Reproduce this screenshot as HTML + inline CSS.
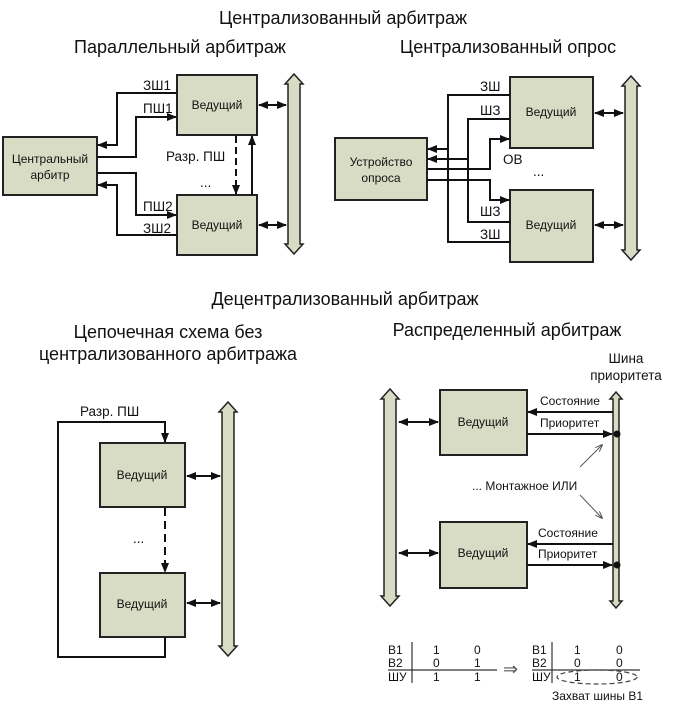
<!DOCTYPE html>
<html><head><meta charset="utf-8"><style>
html,body{margin:0;padding:0;background:#fff;}
svg{display:block;}
text{font-family:"Liberation Sans",Arial,sans-serif;fill:#111;}
.t{font-size:18px;}
.s{font-size:12px;}
.l{font-size:13.5px;}
.box{fill:#d8dcc4;stroke:#222;stroke-width:2;}
.bus{fill:#d8dcc4;stroke:#222;stroke-width:1.5;}
.ln{stroke:#111;stroke-width:2;fill:none;}
</style></head><body>
<svg width="680" height="710" viewBox="0 0 680 710" xmlns="http://www.w3.org/2000/svg">
<defs>
<marker id="a" markerWidth="10" markerHeight="8" refX="9" refY="4" orient="auto" markerUnits="userSpaceOnUse"><path d="M0,0 L10,4 L0,8 z" fill="#111"/></marker>
<marker id="as" markerWidth="10" markerHeight="8" refX="1" refY="4" orient="auto" markerUnits="userSpaceOnUse"><path d="M10,0 L0,4 L10,8 z" fill="#111"/></marker>
<marker id="t" markerWidth="8" markerHeight="6" refX="7" refY="3" orient="auto" markerUnits="userSpaceOnUse"><path d="M0,0 L8,3 L0,6" fill="none" stroke="#555" stroke-width="1"/></marker>
</defs>

<text class="t" x="343" y="24" text-anchor="middle">Централизованный арбитраж</text>
<text class="t" x="180" y="53" text-anchor="middle">Параллельный арбитраж</text>
<text class="t" x="508" y="53" text-anchor="middle">Централизованный опрос</text>
<text class="t" x="345" y="305" text-anchor="middle">Децентрализованный арбитраж</text>
<text class="t" x="168" y="338" text-anchor="middle">Цепочечная схема без</text>
<text class="t" x="168" y="360" text-anchor="middle">централизованного арбитража</text>
<text class="t" x="507" y="336" text-anchor="middle">Распределенный арбитраж</text>

<!-- Panel 1 -->
<rect class="box" x="3" y="137" width="94" height="58"/>
<text class="s" x="50" y="163" text-anchor="middle">Центральный</text>
<text class="s" x="50" y="179" text-anchor="middle">арбитр</text>
<rect class="box" x="177" y="75" width="80" height="60"/>
<text class="s" x="217" y="109" text-anchor="middle">Ведущий</text>
<rect class="box" x="177" y="195" width="80" height="60"/>
<text class="s" x="217" y="229" text-anchor="middle">Ведущий</text>
<polygon class="bus" points="294,74 303,84 300,84 300,244 303,244 294,254 285,244 288,244 288,84 285,84"/>
<line class="ln" x1="259" y1="105" x2="286" y2="105" marker-start="url(#as)" marker-end="url(#a)"/>
<line class="ln" x1="259" y1="225" x2="286" y2="225" marker-start="url(#as)" marker-end="url(#a)"/>
<polyline class="ln" points="177,93 117,93 117,145 98,145" marker-end="url(#a)"/>
<polyline class="ln" points="97,157 136,157 136,117 176,117" marker-end="url(#a)"/>
<polyline class="ln" points="97,173 136,173 136,215 176,215" marker-end="url(#a)"/>
<polyline class="ln" points="177,235 117,235 117,185 98,185" marker-end="url(#a)"/>
<line class="ln" x1="236" y1="136" x2="236" y2="194" stroke-dasharray="7,4" marker-end="url(#a)"/>
<line class="ln" x1="252" y1="195" x2="252" y2="136" marker-end="url(#a)"/>
<text class="l" x="143" y="90">ЗШ1</text>
<text class="l" x="143" y="113">ПШ1</text>
<text class="l" x="166" y="161">Разр. ПШ</text>
<text class="l" x="200" y="187">...</text>
<text class="l" x="143" y="211">ПШ2</text>
<text class="l" x="143" y="233">ЗШ2</text>

<!-- Panel 2 -->
<rect class="box" x="335" y="138" width="92" height="62"/>
<text class="s" x="381" y="166" text-anchor="middle">Устройство</text>
<text class="s" x="381" y="182" text-anchor="middle">опроса</text>
<rect class="box" x="510" y="77" width="83" height="71"/>
<text class="s" x="551" y="116" text-anchor="middle">Ведущий</text>
<rect class="box" x="510" y="190" width="83" height="72"/>
<text class="s" x="551" y="229" text-anchor="middle">Ведущий</text>
<polygon class="bus" points="631,76 640,86 637,86 637,250 640,250 631,260 622,250 625,250 625,86 622,86"/>
<line class="ln" x1="595" y1="113" x2="623" y2="113" marker-start="url(#as)" marker-end="url(#a)"/>
<line class="ln" x1="595" y1="225" x2="623" y2="225" marker-start="url(#as)" marker-end="url(#a)"/>
<polyline class="ln" points="510,95 448,95 448,242 510,242"/>
<line class="ln" x1="448" y1="149" x2="428" y2="149" marker-end="url(#a)"/>
<polyline class="ln" points="510,119 468,119 468,222 510,222"/>
<line class="ln" x1="468" y1="159" x2="428" y2="159" marker-end="url(#a)"/>
<polyline class="ln" points="427,169 490,169 490,139 509,139" marker-end="url(#a)"/>
<polyline class="ln" points="427,180 490,180 490,200 509,200" marker-end="url(#a)"/>
<text class="l" x="480" y="91">ЗШ</text>
<text class="l" x="480" y="115">ШЗ</text>
<text class="l" x="503" y="164">ОВ</text>
<text class="l" x="533" y="176">...</text>
<text class="l" x="480" y="216">ШЗ</text>
<text class="l" x="480" y="239">ЗШ</text>

<!-- Panel 3 -->
<rect class="box" x="100" y="443" width="85" height="64"/>
<text class="s" x="142" y="479" text-anchor="middle">Ведущий</text>
<rect class="box" x="100" y="573" width="85" height="64"/>
<text class="s" x="142" y="608" text-anchor="middle">Ведущий</text>
<polygon class="bus" points="228,402 237,412 234,412 234,646 237,646 228,656 219,646 222,646 222,412 219,412"/>
<line class="ln" x1="187" y1="476" x2="220" y2="476" marker-start="url(#as)" marker-end="url(#a)"/>
<line class="ln" x1="187" y1="603" x2="220" y2="603" marker-start="url(#as)" marker-end="url(#a)"/>
<polyline class="ln" points="165,637 165,657 58,657 58,422 165,422 165,442" marker-end="url(#a)"/>
<line class="ln" x1="165" y1="508" x2="165" y2="572" stroke-dasharray="8,5" marker-end="url(#a)"/>
<text class="l" x="80" y="416">Разр. ПШ</text>
<text class="l" x="133" y="543">...</text>

<!-- Panel 4 -->
<text class="l" x="626" y="363" text-anchor="middle">Шина</text>
<text class="l" x="626" y="380" text-anchor="middle">приоритета</text>
<polygon class="bus" points="390,389 399,399 396,399 396,596 399,596 390,606 381,596 384,596 384,399 381,399"/>
<polygon class="bus" points="616,392 622,399 619,399 619,601 622,601 616,608 610,601 613,601 613,399 610,399"/>
<rect class="box" x="440" y="390" width="87" height="65"/>
<text class="s" x="483" y="426" text-anchor="middle">Ведущий</text>
<rect class="box" x="440" y="522" width="87" height="66"/>
<text class="s" x="483" y="557" text-anchor="middle">Ведущий</text>
<line class="ln" x1="399" y1="422" x2="438" y2="422" marker-start="url(#as)" marker-end="url(#a)"/>
<line class="ln" x1="399" y1="553" x2="438" y2="553" marker-start="url(#as)" marker-end="url(#a)"/>
<line class="ln" x1="613" y1="412" x2="528" y2="412" marker-end="url(#a)"/>
<line class="ln" x1="527" y1="434" x2="612" y2="434" marker-end="url(#a)"/>
<circle cx="617" cy="434" r="3.5" fill="#111"/>
<line class="ln" x1="613" y1="544" x2="528" y2="544" marker-end="url(#a)"/>
<line class="ln" x1="527" y1="565" x2="612" y2="565" marker-end="url(#a)"/>
<circle cx="617" cy="565" r="3.5" fill="#111"/>
<text class="s" x="540" y="405">Состояние</text>
<text class="s" x="540" y="427">Приоритет</text>
<text class="s" x="538" y="537">Состояние</text>
<text class="s" x="538" y="558">Приоритет</text>
<text class="s" x="472" y="490">... Монтажное ИЛИ</text>
<line x1="580" y1="467" x2="602" y2="445" stroke="#555" stroke-width="1" marker-end="url(#t)"/>
<line x1="580" y1="495" x2="602" y2="518" stroke="#555" stroke-width="1" marker-end="url(#t)"/>

<!-- tables -->
<text class="s" x="388" y="654">В1</text>
<text class="s" x="388" y="667">В2</text>
<text class="s" x="388" y="681">ШУ</text>
<line x1="412" y1="642" x2="412" y2="683" stroke="#333" stroke-width="1.2"/>
<line x1="388" y1="670" x2="497" y2="670" stroke="#333" stroke-width="1.2"/>
<text class="s" x="433" y="654">1</text><text class="s" x="474" y="654">0</text>
<text class="s" x="433" y="667">0</text><text class="s" x="474" y="667">1</text>
<text class="s" x="433" y="681">1</text><text class="s" x="474" y="681">1</text>
<text x="503" y="675" style="font-size:18px;fill:#555">⇒</text>
<text class="s" x="532" y="654">В1</text>
<text class="s" x="532" y="667">В2</text>
<text class="s" x="532" y="681">ШУ</text>
<line x1="552" y1="642" x2="552" y2="683" stroke="#333" stroke-width="1.2"/>
<line x1="532" y1="670" x2="640" y2="670" stroke="#333" stroke-width="1.2"/>
<text class="s" x="574" y="654">1</text><text class="s" x="616" y="654">0</text>
<text class="s" x="574" y="667">0</text><text class="s" x="616" y="667">0</text>
<text class="s" x="574" y="681">1</text><text class="s" x="616" y="681">0</text>
<ellipse cx="597" cy="677" rx="40" ry="7" fill="none" stroke="#444" stroke-width="1.2" stroke-dasharray="5,3"/>
<text class="s" x="552" y="700">Захват шины В1</text>
</svg>
</body></html>
